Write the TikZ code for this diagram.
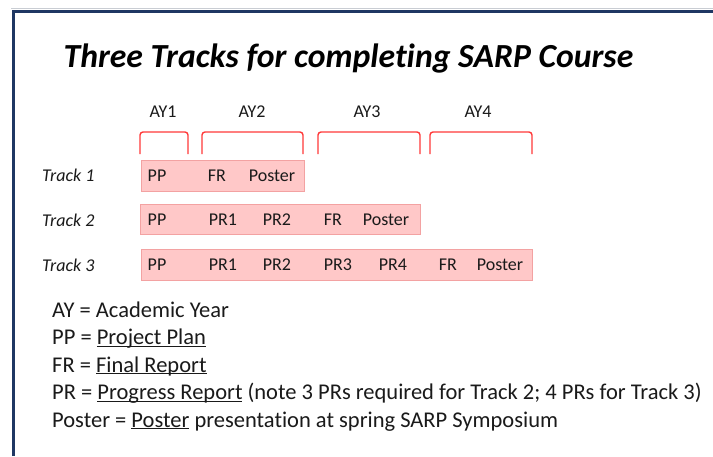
\documentclass[tikz,border=0pt]{standalone}
\usepackage{fontspec}
\setmainfont{Carlito}[Ligatures=NoCommon]
\definecolor{navy}{HTML}{1F3763}
\definecolor{frameGray}{HTML}{C9CDD3}
\definecolor{brk}{HTML}{FF3A3A}
\definecolor{boxfill}{HTML}{FFC8C8}
\definecolor{boxline}{HTML}{F3A2A2}
\definecolor{ink}{HTML}{1A1A1A}
\newcommand\myul[1]{\setbox0\hbox{#1}\rlap{\rule[-0.11em]{\wd0}{0.055em}}#1}
\tikzset{
  small/.style={font=\fontsize{18}{20}\selectfont, text=ink, inner sep=0pt, anchor=base},
  tracklbl/.style={font=\fontsize{18}{20}\selectfont\itshape, text=ink, inner sep=0pt, anchor=base west},
  legend/.style={font=\fontsize{22.5}{25}\selectfont, text=ink, inner sep=0pt, anchor=base west},
  trackbox/.style={draw=boxline, fill=boxfill, line width=0.9pt, inner sep=0pt, anchor=north west},
  bracketline/.style={draw=brk, line width=1.4pt, rounded corners=3pt},
}
\begin{document}
\begin{tikzpicture}[x=1pt,y=-1pt]
\useasboundingbox (0,0) rectangle (713,456);
\fill[white] (0,0) rectangle (713,456);
% frame
\draw[frameGray, line width=1.2pt] (11,8.3) -- (713,8.3);
\draw[navy, line width=3pt] (13,456) -- (13,11) -- (713,11);
% title
\node[font=\fontsize{33.7}{38}\selectfont\bfseries\itshape, inner sep=0pt, anchor=base] (title) at (348.5,67) {Three Tracks for completing SARP Course};
% AY labels
\node[small] (ay1) at (163,117) {AY1};
\node[small] (ay2) at (252,117) {AY2};
\node[small] (ay3) at (367,117) {AY3};
\node[small] (ay4) at (478,117) {AY4};
% brackets
\draw[bracketline] (140,154) -- (140,132) -- (188,132) -- (188,154);
\draw[bracketline] (202,154) -- (202,132) -- (303,132) -- (303,154);
\draw[bracketline] (318,154) -- (318,132) -- (420,132) -- (420,154);
\draw[bracketline] (430,154) -- (430,132) -- (532,132) -- (532,154);
% track labels
\node[tracklbl] (tl1) at (42,181) {Track 1};
\node[tracklbl] (tl2) at (42,226) {Track 2};
\node[tracklbl] (tl3) at (42,271) {Track 3};
% boxes
\node[trackbox, minimum width=163pt, minimum height=31pt] (t1) at (141,160) {};
\node[trackbox, minimum width=280pt, minimum height=30pt] (t2) at (140,204) {};
\node[trackbox, minimum width=391pt, minimum height=31pt] (t3) at (141,249) {};
% track 1 items
\node[small] (t1pp) at (157,181) {PP};
\node[small] (t1fr) at (217,181) {FR};
\node[small] (t1po) at (272,181) {Poster};
% track 2 items
\node[small] (t2pp) at (157,225) {PP};
\node[small] (t2p1) at (223,225) {PR1};
\node[small] (t2p2) at (277,225) {PR2};
\node[small] (t2fr) at (333,225) {FR};
\node[small] (t2po) at (386,225) {Poster};
% track 3 items
\node[small] (t3pp) at (157,270.5) {PP};
\node[small] (t3p1) at (223,270.5) {PR1};
\node[small] (t3p2) at (277,270.5) {PR2};
\node[small] (t3p3) at (338,270.5) {PR3};
\node[small] (t3p4) at (393,270.5) {PR4};
\node[small] (t3fr) at (448,270.5) {FR};
\node[small] (t3po) at (500,270.5) {Poster};
% legend
\node[legend] (l1) at (52,317) {AY = Academic Year};
\node[legend] (l2) at (52,344.5) {PP = \myul{Project Plan}};
\node[legend] (l3) at (52,372) {FR = \myul{Final Report}};
\node[legend] (l4) at (52,399.5) {PR = \myul{Progress Report} (note 3 PRs required for Track 2; 4 PRs for Track 3)};
\node[legend] (l5) at (52,427) {Poster = \myul{Poster} presentation at spring SARP Symposium};
\end{tikzpicture}
\end{document}
